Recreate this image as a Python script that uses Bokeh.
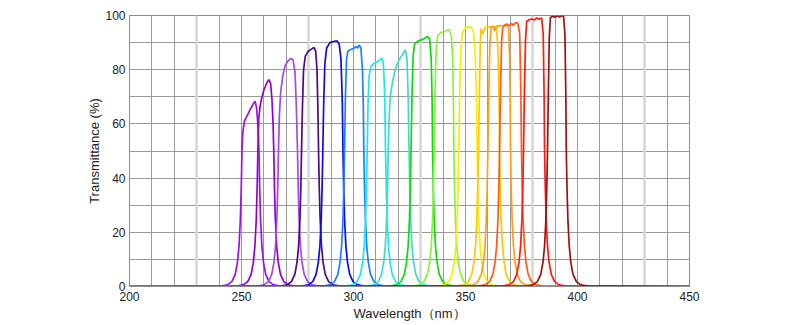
from bokeh.plotting import figure
from bokeh.models import FixedTicker, Range1d, Grid
from bokeh.embed import file_html
from bokeh.resources import INLINE

# ---- data: transmittance curves of 16 bandpass filters (wavelength nm, T %) ----
f1_wl = [200, 241.2, 243.7, 245.7, 247.2, 248.2, 248.9, 249.5, 249.9, 250.2,
         250.6, 251.3, 252.5, 254, 255.3, 256.1, 256.7, 257.3,
         257.8, 258.1, 258.5, 259.1, 259.8, 260.8, 262.3, 264.3, 266.8, 450]
f1_t = [0, 0.2, 0.6, 1.8, 4.5, 9, 15, 25, 37, 50,
        57, 61, 63, 65.5, 67.5, 68.3, 66, 60,
        50, 37, 25, 15, 9, 4.5, 1.8, 0.6, 0.2, 0]

f2_wl = [200, 248.3, 250.8, 252.8, 254.3, 255.3, 256.0, 256.6, 257.0, 257.3,
         257.7, 258.3, 259, 260, 261.3, 262.2, 263, 263.6, 264.1,
         264.4, 264.7, 265.1, 265.7, 266.4, 267.4, 268.9, 270.9, 273.4, 450]
f2_t = [0, 0.2, 0.6, 1.8, 4.5, 9, 15, 25, 37, 50,
        62, 66.5, 69.5, 72.5, 75.2, 76.3, 75, 69, 60,
        50, 37, 25, 15, 9, 4.5, 1.8, 0.6, 0.2, 0]

f3_wl = [200, 257.5, 260.0, 262.0, 263.5, 264.5, 265.2, 265.8, 266.2, 266.5,
         266.9, 267.5, 268.5, 269.5, 270.8, 272, 273, 273.9, 274.5,
         275.0, 275.3, 275.7, 276.3, 277.0, 278.0, 279.5, 281.5, 284.0, 450]
f3_t = [0, 0.2, 0.6, 1.8, 4.5, 9, 15, 25, 37, 50,
        63, 72, 78, 81.5, 83.3, 84.2, 83.6, 79, 66,
        50, 37, 25, 15, 9, 4.5, 1.8, 0.6, 0.2, 0]

f4_wl = [200, 267.8, 270.3, 272.3, 273.8, 274.8, 275.5, 276.1, 276.5, 276.8,
         277.2, 277.7, 278.5, 279.8, 281.2, 282.3, 283.1, 283.7, 284.1,
         284.4, 284.7, 285.1, 285.7, 286.4, 287.4, 288.9, 290.9, 293.4, 450]
f4_t = [0, 0.2, 0.6, 1.8, 4.5, 9, 15, 25, 37, 50,
        66, 80, 85, 86.8, 87.6, 88.2, 87, 80, 66,
        50, 37, 25, 15, 9, 4.5, 1.8, 0.6, 0.2, 0]

f5_wl = [200, 277.3, 279.8, 281.8, 283.3, 284.3, 285.0, 285.6, 286.0, 286.3,
         286.7, 287.2, 288, 289.5, 291, 292.5, 293.6, 294.4, 295,
         295.3, 295.6, 296.0, 296.6, 297.3, 298.3, 299.8, 301.8, 304.3, 450]
f5_t = [0, 0.2, 0.6, 1.8, 4.5, 9, 15, 25, 37, 50,
        68, 82, 88, 90, 90.4, 90.7, 89.5, 84, 68,
        50, 37, 25, 15, 9, 4.5, 1.8, 0.6, 0.2, 0]

f6_wl = [200, 287.0, 289.5, 291.5, 293.0, 294.0, 294.7, 295.3, 295.7, 296.0,
         296.4, 296.9, 297.5, 298.7, 300, 301, 301.8, 302.6, 303.3, 304, 304.4,
         304.6, 304.9, 305.3, 305.9, 306.6, 307.6, 309.1, 311.1, 313.6, 450]
f6_t = [0, 0.2, 0.6, 1.8, 4.5, 9, 15, 25, 37, 50,
        70, 84, 86.8, 87.4, 87.8, 88.6, 88, 89.1, 88, 80, 66,
        50, 37, 25, 15, 9, 4.5, 1.8, 0.6, 0.2, 0]

f7_wl = [200, 297.1, 299.6, 301.6, 303.1, 304.1, 304.8, 305.4, 305.8, 306.1,
         306.5, 307, 307.8, 309.3, 311, 312.6, 313.3, 313.8, 314.1,
         314.3, 314.6, 315.0, 315.6, 316.3, 317.3, 318.8, 320.8, 323.3, 450]
f7_t = [0, 0.2, 0.6, 1.8, 4.5, 9, 15, 25, 37, 50,
        68, 78, 81.2, 82.4, 83.1, 84.3, 82.5, 74, 62,
        50, 37, 25, 15, 9, 4.5, 1.8, 0.6, 0.2, 0]

f8_wl = [200, 306.5, 309.0, 311.0, 312.5, 313.5, 314.2, 314.8, 315.2, 315.5,
         315.9, 316.4, 317.2, 318.2, 319.3, 320.5, 322, 323.2, 323.9, 324.4,
         324.8, 325.1, 325.5, 326.1, 326.8, 327.8, 329.3, 331.3, 333.8, 450]
f8_t = [0, 0.2, 0.6, 1.8, 4.5, 9, 15, 25, 37, 50,
        62, 70, 74.5, 78.5, 81.8, 83.8, 85.8, 87.4, 84, 70,
        50, 37, 25, 15, 9, 4.5, 1.8, 0.6, 0.2, 0]

f9_wl = [200, 316.7, 319.2, 321.2, 322.7, 323.7, 324.4, 325.0, 325.4, 325.7,
         326.1, 326.6, 327.3, 328.7, 330.2, 331.7, 333, 334, 334.7, 335.1,
         335.3, 335.6, 336.0, 336.6, 337.3, 338.3, 339.8, 341.8, 344.3, 450]
f9_t = [0, 0.2, 0.6, 1.8, 4.5, 9, 15, 25, 37, 50,
        70, 85, 89.5, 90.5, 91, 91.5, 92.3, 91.3, 84, 68,
        50, 37, 25, 15, 9, 4.5, 1.8, 0.6, 0.2, 0]

f10_wl = [200, 327.0, 329.5, 331.5, 333.0, 334.0, 334.7, 335.3, 335.7, 336.0,
          336.4, 336.9, 337.6, 339, 341, 342.7, 343.7, 344.3, 344.6,
          344.8, 345.1, 345.5, 346.1, 346.8, 347.8, 349.3, 351.3, 353.8, 450]
f10_t = [0, 0.2, 0.6, 1.8, 4.5, 9, 15, 25, 37, 50,
         72, 87, 92.6, 93.7, 94.2, 94.7, 92.5, 83, 68,
         50, 37, 25, 15, 9, 4.5, 1.8, 0.6, 0.2, 0]

f11_wl = [200, 338.0, 340.5, 342.5, 344.0, 345.0, 345.7, 346.3, 346.7, 347.0,
          347.4, 347.9, 348.5, 349.7, 351.2, 352.6, 353.6, 354.4, 354.9,
          355.2, 355.5, 355.9, 356.5, 357.2, 358.2, 359.7, 361.7, 364.2, 450]
f11_t = [0, 0.2, 0.6, 1.8, 4.5, 9, 15, 25, 37, 50,
         72, 87, 93.3, 95.2, 95.8, 95.6, 93.8, 84, 68,
         50, 37, 25, 15, 9, 4.5, 1.8, 0.6, 0.2, 0]

f12_wl = [200, 346.8, 349.3, 351.3, 352.8, 353.8, 354.5, 355.1, 355.5, 355.8,
          356.2, 356.6, 357, 357.5, 357.9, 358.4, 359.5, 361, 362.5, 363.8, 364.5, 365,
          365.2, 365.5, 365.9, 366.5, 367.2, 368.2, 369.7, 371.7, 374.2, 450]
f12_t = [0, 0.2, 0.6, 1.8, 4.5, 9, 15, 25, 37, 50,
         72, 90, 95.3, 93.5, 93.2, 95, 95.9, 95.7, 96, 95.6, 87, 68,
         50, 37, 25, 15, 9, 4.5, 1.8, 0.6, 0.2, 0]

f13_wl = [200, 351.0, 353.5, 355.5, 357.0, 358.0, 358.7, 359.3, 359.7, 360.0,
          360.4, 360.9, 361.5, 362.4, 363, 363.6, 365, 366.5, 368, 369.2, 369.7, 369.95,
          370.1, 370.4, 370.8, 371.4, 372.1, 373.1, 374.6, 376.6, 379.1, 450]
f13_t = [0, 0.2, 0.6, 1.8, 4.5, 9, 15, 25, 37, 50,
         72, 90, 95.5, 96.1, 94.2, 95.8, 96.3, 96.1, 96.6, 95.5, 85, 68,
         50, 37, 25, 15, 9, 4.5, 1.8, 0.6, 0.2, 0]

f14_wl = [200, 356.2, 358.7, 360.7, 362.2, 363.2, 363.9, 364.5, 364.9, 365.2,
          365.6, 366.1, 366.6, 367.5, 368.5, 369.5, 370.5, 371.4, 372.4, 373.4, 374.2, 374.7,
          375.0, 375.3, 375.7, 376.3, 377.0, 378.0, 379.5, 381.5, 384.0, 450]
f14_t = [0, 0.2, 0.6, 1.8, 4.5, 9, 15, 25, 37, 50,
         72, 90, 95.4, 96.3, 96.9, 96.2, 97.1, 96.4, 97.4, 97.1, 93, 72,
         50, 37, 25, 15, 9, 4.5, 1.8, 0.6, 0.2, 0]

f15_wl = [200, 366.9, 369.4, 371.4, 372.9, 373.9, 374.6, 375.2, 375.6, 375.9,
          376.3, 376.8, 377.3, 378.3, 379.5, 380.8, 381.8, 382.8, 384, 384.7, 385.1,
          385.3, 385.6, 386.0, 386.6, 387.3, 388.3, 389.8, 391.8, 394.3, 450]
f15_t = [0, 0.2, 0.6, 1.8, 4.5, 9, 15, 25, 37, 50,
         72, 91, 97.8, 98.4, 98.7, 98.4, 99.1, 98.6, 99.1, 93, 70,
         50, 37, 25, 15, 9, 4.5, 1.8, 0.6, 0.2, 0]

f16_wl = [200, 377.6, 380.1, 382.1, 383.6, 384.6, 385.3, 385.9, 386.3, 386.6,
          387, 387.4, 387.9, 388.8, 390, 391, 392, 393, 393.8, 394.4, 394.8,
          395.0, 395.3, 395.7, 396.3, 397.0, 398.0, 399.5, 401.5, 404.0, 450]
f16_t = [0, 0.2, 0.6, 1.8, 4.5, 9, 15, 25, 37, 50,
         72, 92, 99.2, 99.7, 99.4, 99.9, 99.4, 99.9, 99.6, 93, 70,
         50, 37, 25, 15, 9, 4.5, 1.8, 0.6, 0.2, 0]

series = [
    (f1_wl, f1_t, "#9a10f5"),
    (f2_wl, f2_t, "#9400d3"),
    (f3_wl, f3_t, "#a347ee"),
    (f4_wl, f4_t, "#4e0a80"),
    (f5_wl, f5_t, "#0a0af0"),
    (f6_wl, f6_t, "#1a80ff"),
    (f7_wl, f7_t, "#18e8f2"),
    (f8_wl, f8_t, "#40dcc8"),
    (f9_wl, f9_t, "#10d810"),
    (f10_wl, f10_t, "#8cf040"),
    (f11_wl, f11_t, "#f5f000"),
    (f12_wl, f12_t, "#ffc800"),
    (f13_wl, f13_t, "#ffa010"),
    (f14_wl, f14_t, "#ff5a10"),
    (f15_wl, f15_t, "#ff1a10"),
    (f16_wl, f16_t, "#a01010"),
]

x_ticks = [200, 250, 300, 350, 400, 450]
y_ticks = [0, 20, 40, 60, 80, 100]
x_grid_dark = [210, 220, 240, 250, 260, 270, 290, 300, 310, 320, 340, 350,
               360, 370, 390, 400, 410, 420, 440]
x_grid_light = [230, 280, 330, 380, 430]
y_grid = list(range(0, 101, 10))

p = figure(width=800, height=325, x_range=Range1d(200, 450), y_range=Range1d(0, 100),
           output_backend="svg", toolbar_location=None,
           min_border_left=129, min_border_right=111, min_border_top=15, min_border_bottom=39)
p.frame_width = 560
p.frame_height = 271
p.background_fill_color = "white"
p.border_fill_color = "white"
p.outline_line_color = "#8c8c8c"
p.outline_line_width = 1

p.xgrid.ticker = FixedTicker(ticks=x_grid_dark)
p.ygrid.ticker = FixedTicker(ticks=y_grid)
for g in (p.xgrid, p.ygrid):
    g.grid_line_color = "#9a9a9a"
    g.grid_line_width = 1
light = Grid(dimension=0, ticker=FixedTicker(ticks=x_grid_light),
             grid_line_color="#d6d6d6", grid_line_width=2.5)
p.add_layout(light)

for wl, t, c in series:
    p.line(wl, t, line_color=c, line_width=1.7)

p.xaxis.ticker = FixedTicker(ticks=x_ticks)
p.yaxis.ticker = FixedTicker(ticks=y_ticks)
for ax in (p.xaxis, p.yaxis):
    ax.major_tick_line_color = None
    ax.minor_tick_line_color = None
    ax.major_tick_out = 0
    ax.major_tick_in = 0
    ax.minor_tick_out = 0
    ax.minor_tick_in = 0
    ax.axis_line_color = "#8c8c8c"
    ax.major_label_text_font = "Liberation Sans"
    ax.major_label_text_font_size = "12px"
    ax.major_label_text_color = "#222222"
    ax.axis_label_text_font = "Liberation Sans"
    ax.axis_label_text_font_size = "13px"
    ax.axis_label_text_font_style = "normal"
    ax.axis_label_text_color = "#222222"

p.xaxis.axis_label = "Wavelength（nm）"
p.yaxis.axis_label = "Transmittance (%)"
p.xaxis.major_label_standoff = 5
p.xaxis.axis_label_standoff = 2
p.yaxis.major_label_standoff = 4
p.yaxis.axis_label_standoff = 0

open("out.html", "w").write(file_html(p, INLINE))
